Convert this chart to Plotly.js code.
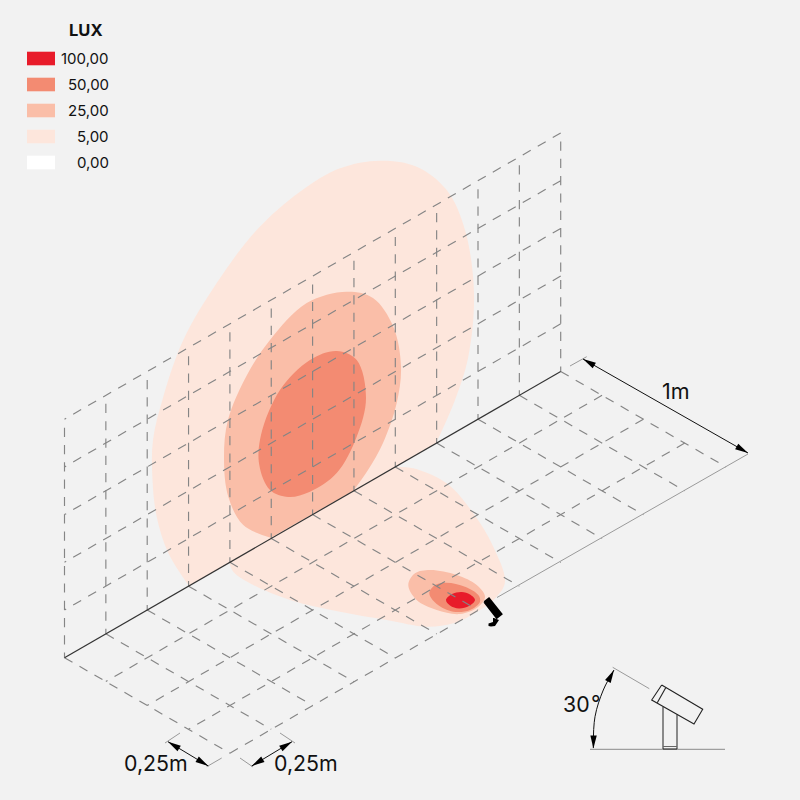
<!DOCTYPE html>
<html><head><meta charset="utf-8">
<script src="https://cdn.plot.ly/plotly-3.0.1.min.js"></script>
<style>html,body{margin:0;padding:0;background:#f2f2f2}</style></head>
<body><div id="chart" style="width:800px;height:800px"></div>
<script>
// Legend
const legendTitle = "LUX";
const legendLabels = ["100,00","50,00","25,00","5,00","0,00"];
const legendColors = ["#E81B2A","#F38B72","#FABEA8","#FDE6DC","#FFFFFF"];
const legendRowY = [58.5,84.5,110.5,136.5,162.5];

// Grid
const gridOrigin = [64.5,657.7];
const alongWall = [41.35,-23.85];
const alongFloor = [41.35,23.87];
const wallCellHeight = 47.7;
const wallColumns = [0,1,2,3,4,5,6,7,8,9,10,11,12];
const wallRows = [1,2,3,4,5];
const floorRows = [1,2,3];

// Iso-lux outlines
const wall5X = [436,455,468.3,474,465,446.7,416.7,380,340,300,256.7,216.7,183.3,163.3,153,152.5,156.7,168.3,189];
const wall5Y = [443.3,400,356.7,293.3,230,190,166.7,160.7,168.3,191.7,230,283,340,396.7,440,480,516.7,553,586];
const floor5X = [395,413.3,446.7,473.3,493.3,505,496.7,480,453.3,426.7,386.7,340,290,253.3,233.3,229.3];
const floor5Y = [466.7,468.3,483.3,513.3,546.7,581.7,596.7,610,623.3,626.7,620,611.7,600,585,571.7,562.3];
const wall25X = [270.7,243.3,228.3,224,228,247,270,306.7,346.7,373,393.3,401,396.7,383,368,353.3];
const wall25Y = [537.7,525,496.7,456.7,420,375,340,303,291.7,298,326.7,366.7,403,443,470,490.7];
const wall50X = [336.7,356.7,366,356.7,336.7,310,288.3,270,259.3,261,280,310,336.7];
const wall50Y = [351,360,398,436.7,473,491.7,497,490,465,435,390,360,351];
const floor25X = [408.3,415,430,456.7,476.7,485,478.3,460,436.7,416.7,408.3];
const floor25Y = [585,573.3,570,575,585,596.7,606.7,614,610,600,585];
const floor50X = [429.3,435,446.7,465,478.3,480,470,453.3,436.7,429.3];
const floor50Y = [593.3,585,582.7,586.7,595,601.7,610,611.7,604,593.3];
const floor100X = [446,452,461.7,470,475,469,459,450,446];
const floor100Y = [600,594,592,594.5,600,606,608.5,605.5,600];

// Lamp on the floor and side-view detail
const lampBodyX = [484.3,489,501.5,496.7,484.3];
const lampBodyY = [602,598.3,614,617.8,602];
const lampFootX = [494,499,497,495,491,488.5,488.5,491,493,493,494];
const lampFootY = [618,620,623,626,626.5,626,623.5,622.5,622,618,618];
const sideBodyX = [661.7,702.7,694,651.7,661.7];
const sideBodyY = [685,709.3,724,700,685];
const sideCapX = [665.7,657.3];
const sideCapY = [687.7,702.7];
const sidePostX = [663,663,677,677];
const sidePostY = [707,749,749,714.5];
const sideFootX = [663,677];
const sideFootY = [746.5,746.5];
const groundX = [590,725];
const groundY = [749.3,749.3];
const angleLineX = [612.7,649.3];
const angleLineY = [667.3,688.7];
const angleArcX = [614,603.3,595,593.3];
const angleArcY = [670,690,716.7,748];

const traces = [];
const GREY = "#858585";
function line(x,y,color,width,dash,shape){
  traces.push({type:"scatter",mode:"lines",x:x,y:y,hoverinfo:"skip",showlegend:false,
    line:{color:color,width:width,dash:dash||"solid",shape:shape||"linear"}});
}
function fill(x,y,color,shape){
  traces.push({type:"scatter",mode:"lines",x:x,y:y,fill:"toself",fillcolor:color,hoverinfo:"skip",showlegend:false,
    line:{color:color,width:0,shape:shape||"linear"}});
}
function blob(x,y,color){ fill(x,y,color,"spline"); }
function arrow(tip,from,color){
  const dx=from[0]-tip[0],dy=from[1]-tip[1],l=Math.hypot(dx,dy),ux=dx/l,uy=dy/l,L=13,W=3.2;
  fill([tip[0],tip[0]+ux*L-uy*W,tip[0]+ux*L+uy*W,tip[0]],[tip[1],tip[1]+uy*L+ux*W,tip[1]+uy*L-ux*W,tip[1]],color||"#000");
}
function pt(i,j,k){return [gridOrigin[0]+alongWall[0]*i+alongFloor[0]*j,
                           gridOrigin[1]+alongWall[1]*i+alongFloor[1]*j-wallCellHeight*k];}

// Fills
blob(wall5X,wall5Y,legendColors[3]);
blob(floor5X,floor5Y,legendColors[3]);
blob(wall25X,wall25Y,legendColors[2]);
blob(wall50X,wall50Y,legendColors[1]);
blob(floor25X,floor25Y,legendColors[2]);
blob(floor50X,floor50Y,legendColors[1]);
blob(floor100X,floor100Y,legendColors[0]);

// Wall grid
const DASH="9.2px,8.1px";
wallRows.forEach(k=>{const a=pt(12,0,k),b=pt(0,0,k);line([a[0],b[0]],[a[1],b[1]],GREY,1.15,DASH);});
wallColumns.forEach(i=>{const a=pt(i,0,5),b=pt(i,0,0);line([a[0],b[0]],[a[1]+8.5,b[1]],GREY,1.15,DASH);});
// Floor grid
wallColumns.forEach(i=>{const a=pt(i,0,0),b=pt(i,4,0);line([a[0],b[0]],[a[1],b[1]],GREY,1.15,DASH);});
floorRows.forEach(j=>{const a=pt(12,j,0),b=pt(0,j,0);line([a[0],b[0]],[a[1],b[1]],GREY,1.15,DASH);});
{const a=pt(0,4,0),b=[484,607];line([a[0],b[0]],[a[1],b[1]],GREY,1.15,DASH);}
// Wall base
{const a=pt(0,0,0),b=pt(12,0,0);line([a[0],b[0]],[a[1],b[1]],"#333333",1.2);}

// Extension lines and dimensions
line([497,748],[597.5,454],"#9a9a9a",1);
line([570,586.7],[366,356.7],"#9a9a9a",1);
line([165,180],[743,733],"#9a9a9a",1);
line([206.7,221.7],[766.7,758],"#9a9a9a",1);
line([240,253],[758,767],"#9a9a9a",1);
line([280,295],[733,743],"#9a9a9a",1);
function dim(a,b){line([a[0],b[0]],[a[1],b[1]],"#111",1);arrow(a,b);arrow(b,a);}
dim([583,359],[748,453]);
dim([168,741.7],[208.3,766]);
dim([251.7,766],[292,741.7]);

// Lamp on floor
fill(lampBodyX,lampBodyY,"#000");
line(lampBodyX,lampBodyY,"#000",2);
fill(lampFootX,lampFootY,"#000");

// Side view
line(groundX,groundY,"#8a8a8a",1);
line(angleLineX,angleLineY,"#9a9a9a",1);
line(sidePostX,sidePostY,"#222",1);
line(sideFootX,sideFootY,"#666",1);
line(sideBodyX,sideBodyY,"#222",1.1);
line(sideCapX,sideCapY,"#222",1.1);
line(angleArcX,angleArcY,"#111",1,"solid","spline");
arrow([614,670],[606,685]);
arrow([593.4,748.5],[593.6,733]);

const textFont="Inter, Roboto, sans-serif";
const ann=[];
function label(x,y,t,size,anchor,bold){
  ann.push({x:x,y:y,xref:"x",yref:"y",text:bold?"<b>"+t+"</b>":t,showarrow:false,xanchor:anchor,yanchor:"middle",
    font:{family:textFont,size:size,color:"#111"}});
}
label(85.5,30,legendTitle,16.5,"center",true);
const shapes=[];
legendLabels.forEach((t,i)=>{
  label(111,legendRowY[i],t,15,"right",false);
  shapes.push({type:"rect",xref:"x",yref:"y",x0:27,x1:55,y0:legendRowY[i]-6.8,y1:legendRowY[i]+6.8,
    fillcolor:legendColors[i],line:{width:0}});
});
label(676,391,"1m",21.5,"center");
label(156,763,"0,25m",21.3,"center");
label(306,763,"0,25m",21.3,"center");
label(576,704,"30",21.3,"center");
label(595.5,703,"°",21,"center");

Plotly.newPlot("chart",traces,{
  width:800,height:800,margin:{l:0,r:0,t:0,b:0},
  paper_bgcolor:"#f2f2f2",plot_bgcolor:"#f2f2f2",showlegend:false,hovermode:false,
  xaxis:{range:[0,800],visible:false,fixedrange:true},
  yaxis:{range:[800,0],visible:false,fixedrange:true},
  annotations:ann,shapes:shapes
},{staticPlot:true,displayModeBar:false});
</script></body></html>
